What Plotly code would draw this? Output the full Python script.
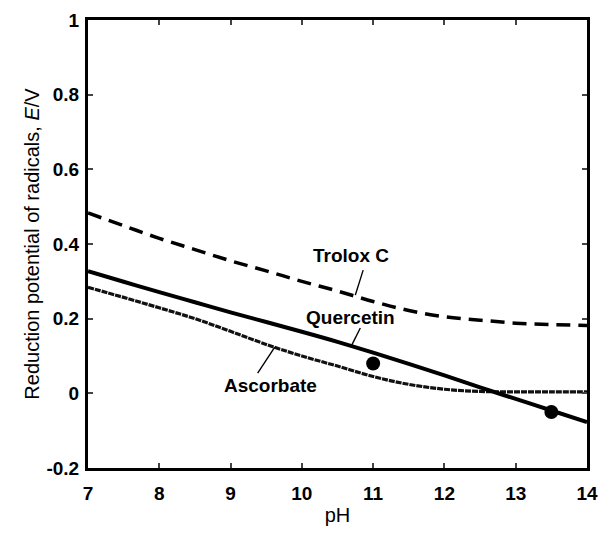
import plotly.graph_objects as go

# pH grid and radical reduction potentials (V)
ph = [7, 7.5, 8, 8.5, 9, 9.5, 10, 10.5, 11, 11.5, 12, 12.5, 13, 13.5, 14]
trolox = [0.483, 0.449, 0.415, 0.385, 0.355, 0.328, 0.300, 0.274, 0.246,
          0.222, 0.205, 0.196, 0.188, 0.184, 0.182]
quercetin = [0.327, 0.299, 0.271, 0.244, 0.217, 0.191, 0.165, 0.138, 0.109,
             0.079, 0.048, 0.016, -0.015, -0.046, -0.077]
ascorbate = [0.284, 0.257, 0.229, 0.200, 0.166, 0.131, 0.100, 0.073, 0.045,
             0.024, 0.011, 0.005, 0.004, 0.004, 0.004]

# measured quercetin points
pt_ph = [11.0, 13.5]
pt_e = [0.08, -0.05]

x_ticks = [7, 8, 9, 10, 11, 12, 13, 14]
y_ticks = [-0.2, 0, 0.2, 0.4, 0.6, 0.8, 1]
y_tick_text = ["-0.2", "0", "0.2", "0.4", "0.6", "0.8", "1"]

FONT = "Liberation Sans, Arial, Helvetica, sans-serif"

fig = go.Figure()
fig.add_trace(go.Scatter(x=ph, y=trolox, mode="lines", line_shape="spline",
                         line=dict(color="black", width=3.5, dash="14px,8px")))
fig.add_trace(go.Scatter(x=ph, y=ascorbate, mode="lines", line_shape="spline",
                         line=dict(color="#111", width=3.2, dash="6px,1px")))
fig.add_trace(go.Scatter(x=ph, y=quercetin, mode="lines", line_shape="spline",
                         line=dict(color="black", width=4)))
fig.add_trace(go.Scatter(x=pt_ph, y=pt_e, mode="markers",
                         marker=dict(color="black", size=14)))

# curve labels
labels = [
    ("Trolox C", 10.69, 0.370),
    ("Quercetin", 10.68, 0.204),
    ("Ascorbate", 9.56, 0.022),
]
for text, tx, ty in labels:
    fig.add_annotation(x=tx, y=ty, text="<b>" + text + "</b>", showarrow=False,
                       font=dict(family=FONT, size=19, color="black"))

# leader lines from labels to curves
leaders = [
    (10.86, 0.330, 10.75, 0.263),
    (10.82, 0.175, 10.70, 0.129),
    (9.38, 0.054, 9.62, 0.124),
]
for x0, y0, x1, y1 in leaders:
    fig.add_shape(type="line", x0=x0, y0=y0, x1=x1, y1=y1,
                  line=dict(color="black", width=1.4))

fig.update_layout(
    width=600, height=535,
    margin=dict(l=88, r=13, t=20, b=67),
    paper_bgcolor="white", plot_bgcolor="white",
    showlegend=False,
    font=dict(family=FONT, color="black"),
)
fig.update_xaxes(
    range=[7, 14], tickvals=x_ticks, ticktext=["<b>%d</b>" % v for v in x_ticks],
    ticks="inside", ticklen=5, tickwidth=1.5, ticklabelstandoff=6,
    showline=True, linewidth=3, linecolor="black", mirror="ticks",
    showgrid=False, zeroline=False, automargin=False,
    tickfont=dict(family=FONT, size=19, color="black"),
    title=dict(text="pH", font=dict(family=FONT, size=20), standoff=6),
)
fig.update_yaxes(
    range=[-0.2, 1], tickvals=y_ticks, ticktext=["<b>" + t + "</b>" for t in y_tick_text],
    ticks="inside", ticklen=5, tickwidth=1.5, ticklabelstandoff=2,
    showline=True, linewidth=3, linecolor="black", mirror="ticks",
    showgrid=False, zeroline=False, automargin=False,
    tickfont=dict(family=FONT, size=19, color="black"),
    title=dict(text="Reduction potential of radicals, <i>E</i>/V",
               font=dict(family=FONT, size=20), standoff=2),
)

fig.write_html("out.html")
